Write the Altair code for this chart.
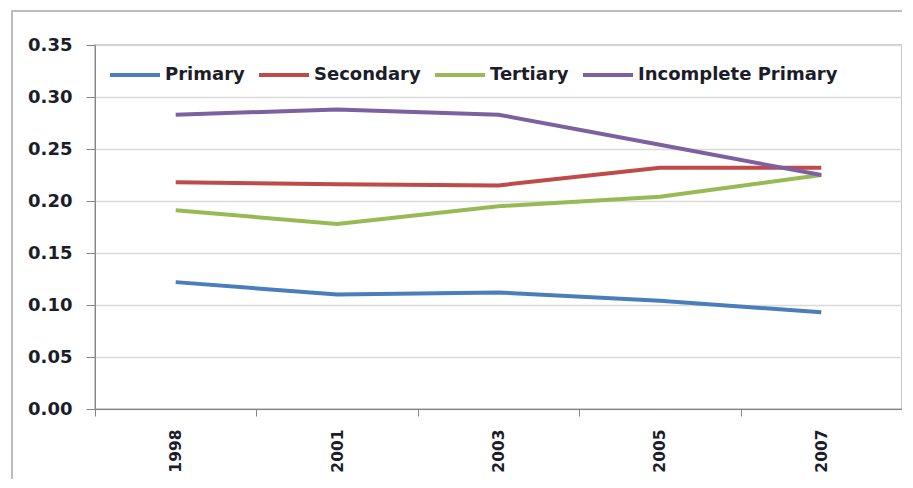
import altair as alt
import pandas as pd

years = ["1998", "2001", "2003", "2005", "2007"]
series_names = ["Primary", "Secondary", "Tertiary", "Incomplete Primary"]
primary = [0.122, 0.110, 0.112, 0.104, 0.093]
secondary = [0.218, 0.216, 0.215, 0.232, 0.232]
tertiary = [0.191, 0.178, 0.195, 0.204, 0.225]
incomplete_primary = [0.283, 0.288, 0.283, 0.254, 0.225]
colors = ["#4A7EBB", "#BE4B48", "#98B954", "#7D60A0"]
y_ticks = [0.0, 0.05, 0.10, 0.15, 0.20, 0.25, 0.30, 0.35]

rows = []
for name, vals in zip(series_names, [primary, secondary, tertiary, incomplete_primary]):
    for yr, v in zip(years, vals):
        rows.append({"year": yr, "value": v, "series": name})
df = pd.DataFrame(rows)

FONT = "DejaVu Sans"
LABEL_COLOR = "#1c1c2a"

lines = alt.Chart(df).mark_line(strokeWidth=4).encode(
    x=alt.X(
        "year:O",
        sort=years,
        bandPosition=0.5,
        scale=alt.Scale(type="band", paddingInner=0, paddingOuter=0),
        axis=alt.Axis(
            title=None,
            tickBand="extent",
            labelAngle=270,
            labelFont=FONT,
            labelFontSize=15.5,
            labelFontWeight="bold",
            labelColor=LABEL_COLOR,
            labelPadding=13,
            tickSize=7,
            tickColor="#868686",
            domainColor="#868686",
            grid=False,
        ),
    ),
    y=alt.Y(
        "value:Q",
        scale=alt.Scale(domain=[0, 0.35], nice=False),
        axis=alt.Axis(
            title=None,
            values=y_ticks,
            format=".2f",
            labelFont=FONT,
            labelFontSize=18,
            labelFontWeight="bold",
            labelColor=LABEL_COLOR,
            labelPadding=14,
            tickSize=9,
            tickColor="#868686",
            domainColor="#868686",
            gridColor="#d9d9d9",
            gridWidth=1.5,
        ),
    ),
    color=alt.Color(
        "series:N",
        sort=series_names,
        scale=alt.Scale(domain=series_names, range=colors),
        legend=alt.Legend(
            title=None,
            orient="none",
            direction="horizontal",
            legendX=13,
            legendY=3,
            padding=0,
            symbolType="stroke",
            symbolSize=2500,
            symbolStrokeWidth=4,
            labelFont=FONT,
            labelFontSize=18,
            labelFontWeight="bold",
            labelColor=LABEL_COLOR,
            labelOffset=3,
            labelLimit=400,
            columnPadding=6,
        ),
    ),
)

frame = alt.Chart(pd.DataFrame({"a": [0]})).mark_rect(
    fill=None, stroke="#a6a6a6", strokeWidth=1.5, clip=False
).encode(
    x=alt.value(-83),
    x2=alt.value(900),
    y=alt.value(-34),
    y2=alt.value(500),
)

chart = alt.layer(frame, lines).properties(
    width=807,
    height=364,
    autosize="none",
    padding={"left": 87, "top": 37, "right": 0, "bottom": 70},
    background="white",
).configure_view(stroke="#b5b5b5", strokeWidth=1.5)

chart.save("out.html", embed_options={"renderer": "svg", "actions": False})
